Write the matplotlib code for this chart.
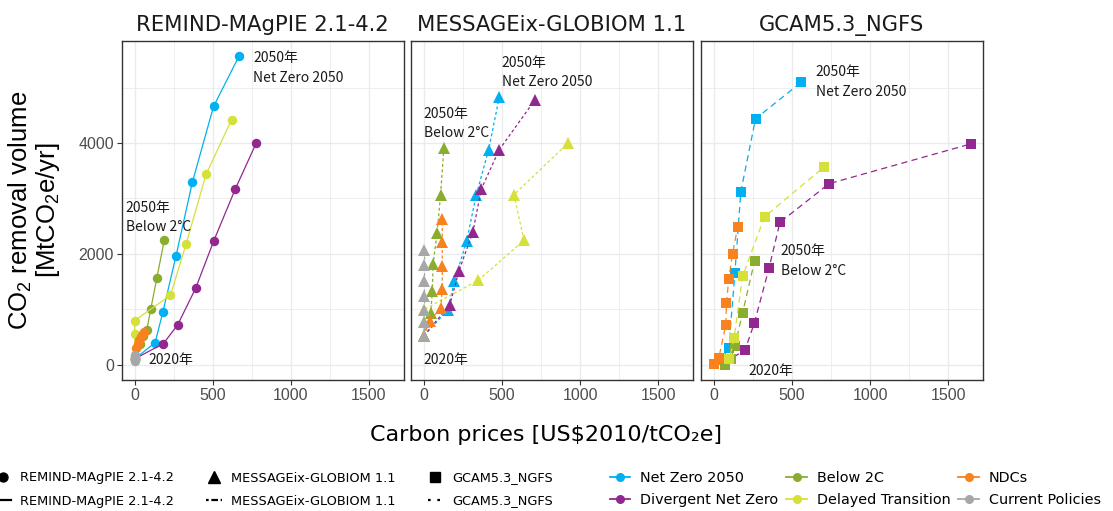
import matplotlib
matplotlib.use("Agg")
import matplotlib.pyplot as plt
from matplotlib.lines import Line2D
from matplotlib.ticker import MultipleLocator

plt.rcParams['mathtext.fontset'] = 'custom'
plt.rcParams['mathtext.rm'] = 'Liberation Sans'
plt.rcParams['mathtext.it'] = 'Liberation Sans:italic'

models = ["REMIND-MAgPIE 2.1-4.2", "MESSAGEix-GLOBIOM 1.1", "GCAM5.3_NGFS"]
scenarios = ["Net Zero 2050", "Divergent Net Zero", "Below 2C",
             "Delayed Transition", "NDCs", "Current Policies"]
colors = {"Net Zero 2050": "#00B0F0", "Divergent Net Zero": "#92278F",
          "Below 2C": "#8AAC2F", "Delayed Transition": "#D5E03A",
          "NDCs": "#F7821E", "Current Policies": "#A6A8A8"}
markers = {models[0]: "o", models[1]: "^", models[2]: "s"}
msizes = {models[0]: 6.8, models[1]: 8.6, models[2]: 7.2}
dashes = {models[0]: None, models[1]: (2.4, 2.0), models[2]: (5.0, 3.4)}
legend_dashes = {models[0]: None, models[1]: (1.2, 1.2, 3.0, 1.2), models[2]: (1.2, 3.0)}

# years 2020, 2025, ..., 2050 ; carbon price [US$2010/tCO2e], removal [MtCO2e/yr]
remind_price = {
    "Net Zero 2050":      [5, 132, 181, 266, 370, 506, 670],
    "Divergent Net Zero": [5, 185, 277, 392, 506, 645, 779],
    "Below 2C":           [5, 35, 56, 79, 104, 143, 191],
    "Delayed Transition": [5, 0, 0, 230, 330, 458, 621],
    "NDCs":               [5, 10, 20, 30, 40, 50, 60],
    "Current Policies":   [5, 5, 5, 5, 5, 5, 5],
}
remind_cdr = {
    "Net Zero 2050":      [110, 397, 944, 1967, 3290, 4662, 5576],
    "Divergent Net Zero": [110, 379, 722, 1383, 2226, 3170, 4000],
    "Below 2C":           [110, 380, 511, 632, 1004, 1564, 2256],
    "Delayed Transition": [110, 560, 794, 1251, 2177, 3435, 4421],
    "NDCs":               [110, 300, 380, 440, 500, 540, 580],
    "Current Policies":   [60, 80, 100, 120, 140, 160, 180],
}
message_price = {
    "Net Zero 2050":      [0, 156, 195, 274, 335, 415, 483],
    "Divergent Net Zero": [0, 167, 224, 314, 368, 483, 709],
    "Below 2C":           [0, 45, 54, 60, 85, 107, 128],
    "Delayed Transition": [0, 0, 0, 349, 641, 577, 923],
    "NDCs":               [0, 38, 109, 118, 118, 118, 118],
    "Current Policies":   [0, 0, 0, 0, 0, 0, 0],
}
message_cdr = {
    "Net Zero 2050":      [520, 993, 1504, 2226, 3056, 3880, 4830],
    "Divergent Net Zero": [520, 1083, 1684, 2394, 3170, 3880, 4770],
    "Below 2C":           [520, 933, 1323, 1823, 2376, 3056, 3910],
    "Delayed Transition": [520, 764, 993, 1522, 2244, 3068, 4000],
    "NDCs":               [520, 782, 1023, 1366, 1775, 2208, 2629],
    "Current Policies":   [520, 764, 993, 1233, 1504, 1805, 2076],
}
gcam_price = {
    "Net Zero 2050":      [0, 50, 96, 135, 173, 267, 558],
    "Divergent Net Zero": [0, 105, 199, 259, 353, 423, 737, 1648],
    "Below 2C":           [0, 70, 107, 135, 184, 261],
    "Delayed Transition": [0, 0, 100, 130, 184, 325, 703],
    "NDCs":               [0, 32, 77, 81, 96, 120, 152],
}
gcam_cdr = {
    "Net Zero 2050":      [18, 100, 301, 1654, 3122, 4439, 5095],
    "Divergent Net Zero": [18, 100, 259, 746, 1738, 2568, 3266, 3988],
    "Below 2C":           [18, 0, 103, 343, 933, 1871],
    "Delayed Transition": [18, 18, 100, 481, 1594, 2671, 3561],
    "NDCs":               [18, 120, 722, 1113, 1552, 2003, 2478],
}
data = {models[0]: (remind_price, remind_cdr),
        models[1]: (message_price, message_cdr),
        models[2]: (gcam_price, gcam_cdr)}

annotations = {
    models[0]: [("2050年\nNet Zero 2050", 759, 5360), ("2050年\nBelow 2°C", -55, 2660), ("2020年", 88, 90)],
    models[1]: [("2050年\nNet Zero 2050", 498, 5270), ("2050年\nBelow 2°C", 0, 4350), ("2020年", 0, 90)],
    models[2]: [("2050年\nNet Zero 2050", 652, 5100), ("2050年\nBelow 2°C", 428, 1870), ("2020年", 220, -120)],
}

W, H = 1113, 511
fig = plt.figure(figsize=(W / 100, H / 100), dpi=100)
lefts = [121.7, 411, 701]
pw = 282
top, bottom = 41, 380
axes = []
for i, m in enumerate(models):
    ax = fig.add_axes([lefts[i] / W, 1 - bottom / H, pw / W, (bottom - top) / H])
    axes.append(ax)
    prices, cdrs = data[m]
    for s in scenarios:
        if s not in prices:
            continue
        kw = dict(color=colors[s], lw=0.9, marker=markers[m], markersize=msizes[m],
                  markeredgewidth=0, zorder=3)
        line, = ax.plot(prices[s], cdrs[s], **kw)
        if dashes[m] is not None:
            line.set_dashes(dashes[m])
    for txt, x, y in annotations[m]:
        ax.text(x, y, txt, ha='left', va='center', fontsize=10,
                family=['Noto Sans CJK JP', 'DejaVu Sans'], color='#1a1a1a',
                linespacing=1.5, zorder=4)
    ax.set_xlim(-82, 1723)
    ax.set_ylim(-278, 5843)
    ax.xaxis.set_major_locator(MultipleLocator(500))
    ax.xaxis.set_minor_locator(MultipleLocator(250))
    ax.yaxis.set_major_locator(MultipleLocator(2000))
    ax.yaxis.set_minor_locator(MultipleLocator(1000))
    ax.grid(which='major', color='#EBEBEB', lw=1.0)
    ax.grid(which='minor', color='#EBEBEB', lw=0.6)
    ax.set_axisbelow(True)
    for sp in ax.spines.values():
        sp.set_color('#333333')
        sp.set_linewidth(1.0)
    ax.tick_params(which='major', length=3.5, color='#333333', width=0.8,
                   labelsize=11.5, labelcolor='#4D4D4D', pad=2)
    ax.tick_params(which='minor', length=0)
    for lab in ax.get_xticklabels() + ax.get_yticklabels():
        lab.set_family('Liberation Sans')
    if i > 0:
        ax.tick_params(axis='y', which='both', left=False, labelleft=False)
    ax.set_title(m, fontsize=15.2, color='#1a1a1a', pad=7, family='DejaVu Sans')

fig.text(546 / W, 1 - 435 / H, "Carbon prices [US$2010/tCO₂e]", ha='center', va='center',
         fontsize=16, family='DejaVu Sans', color='black')
fig.text(20 / W, 1 - 210 / H, r"CO$_2$ removal volume", rotation=90, ha='center', va='center',
         fontsize=18.5, family='Liberation Sans')
fig.text(48 / W, 1 - 210 / H, r"[MtCO$_2$e/yr]", rotation=90, ha='center', va='center',
         fontsize=18.5, family='Liberation Sans')

# legends
shape_handles = [Line2D([], [], marker=markers[m], color='black', linestyle='None',
                        markersize=msizes[m] * 0.95) for m in models]
lt_handles = []
for m in models:
    h = Line2D([], [], color='black', lw=1.6)
    if legend_dashes[m] is not None:
        h.set_dashes(legend_dashes[m])
    lt_handles.append(h)
leg_kw = dict(frameon=False, ncol=3, borderpad=0, borderaxespad=0, handlelength=1.2,
              handletextpad=0.7, columnspacing=2.5, prop={'family': 'DejaVu Sans', 'size': 9.3})
l1 = fig.legend(shape_handles, models, loc='center left', bbox_to_anchor=(-0.004, 1 - 478 / H), **leg_kw)
l2 = fig.legend(lt_handles, models, loc='center left', bbox_to_anchor=(-0.004, 1 - 501 / H), **leg_kw)

col_handles = [Line2D([], [], color=colors[s], lw=1.3, marker='o', markersize=6.5,
                      markeredgewidth=0) for s in scenarios]
fig.legend(col_handles, scenarios, loc='center left', bbox_to_anchor=(610 / W, 1 - 489 / H),
           frameon=False, ncol=3, borderpad=0, borderaxespad=0, handlelength=1.4,
           handletextpad=0.7, columnspacing=0.55, labelspacing=0.5,
           prop={'family': 'DejaVu Sans', 'size': 10.4})

fig.savefig("out.png", dpi=100)
